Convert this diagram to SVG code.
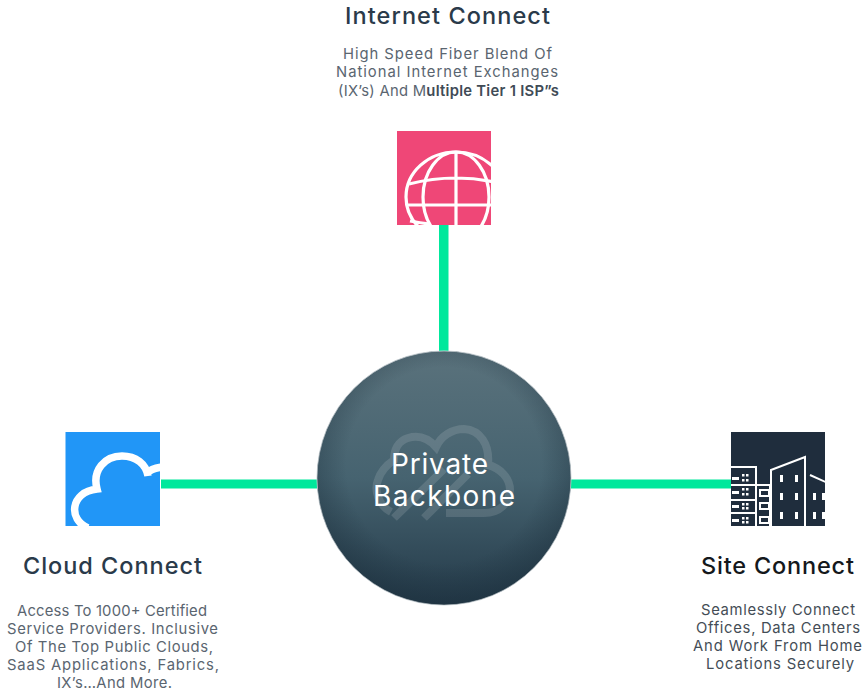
<svg xmlns="http://www.w3.org/2000/svg" width="866" height="699" viewBox="0 0 866 699">
<style>
text{font-family:"Inter","Lato","Noto Sans",sans-serif;text-anchor:middle}
.h{font-size:23.500px;fill:#2a3a4a;font-weight:500}
.b{font-size:14.800px;fill:#5a6570}
.w{fill:none;stroke:#fff}
.c{fill:#00e89c}
.win{fill:#fff}
.t{font-size:28px;fill:#fff}
</style>
<defs>
<linearGradient id="ball" x1="0" y1="0" x2="0" y2="1">
<stop offset="0" stop-color="#5a727c"/><stop offset="0.5" stop-color="#466370"/><stop offset="1" stop-color="#243a49"/>
</linearGradient>
<radialGradient id="edge" cx="0.5" cy="0.45" r="0.55">
<stop offset="0.7" stop-color="#1a2d3a" stop-opacity="0"/><stop offset="1" stop-color="#1a2d3a" stop-opacity=".45"/>
</radialGradient>
<clipPath id="cg"><rect x="397" y="131" width="94" height="94"/></clipPath>
<clipPath id="cc"><rect x="65.500" y="432" width="94.500" height="94"/></clipPath>
<clipPath id="cb"><rect x="731" y="432" width="94" height="94"/></clipPath>
</defs>
<g id="connectors">
<rect class="c" x="439" y="222" width="9.500" height="130"/>
<rect class="c" x="161" y="479.500" width="159" height="9"/>
<rect class="c" x="568" y="479.500" width="165" height="9"/>
</g>
<g id="internet-connect">
<rect x="397" y="131" width="94" height="94" fill="#ef4777"/>
<g clip-path="url(#cg)" class="w" stroke-width="3.200">
<ellipse cx="456" cy="197" rx="50" ry="45"/>
<ellipse cx="456" cy="197" rx="33" ry="45"/>
<path d="M456 152V225M409 184Q456 172 503 184M406 205H506M410 221Q420 223 430 224"/>
</g>
<text class="h" x="447.500" y="24" textLength="205">Internet Connect</text>
<text class="b" x="447.500" y="59" textLength="209">High Speed Fiber Blend Of</text>
<text class="b" x="447" y="77" textLength="222">National Internet Exchanges</text>
<text class="b" x="448.500" y="96" textLength="221">(IX’s) And M<tspan font-weight="600" fill="#404b56">ultiple Tier 1 ISP”s</tspan></text>
</g>
<g id="private-backbone">
<circle cx="444" cy="478" r="127" fill="url(#ball)" stroke="#c8d0d4" stroke-width="1"/>
<circle cx="444" cy="478" r="127" fill="url(#edge)"/>
<g fill="none" stroke="#fff" stroke-opacity=".13" stroke-width="8">
<path d="M391 512C378 505 374 490 378 480C381 470 388 464 394 460C394 450 398 441 408 438C418 435 428 438 436 447C441 436 452 429 464 429C480 430 490 444 488 465C500 468 510 478 510 490C509 503 500 513 484 513H446"/>
<path d="M394 518L444 469M424 518L468 474" stroke-width="8"/>
</g>
<text class="t" x="439.500" y="474" textLength="97">Private</text>
<text class="t" x="444" y="506" textLength="142">Backbone</text>
</g>
<g id="cloud-connect">
<rect x="65.500" y="432" width="94.500" height="94" fill="#2196f7"/>
<path clip-path="url(#cc)" d="M88 528C68 520 70 492 97 489C92 470 105 456 122 456C136 456 146 464 148 476M147 473C150 470 155 468 162 467" class="w" stroke-width="7.500"/>
<text class="h" x="112.500" y="574" textLength="179">Cloud Connect</text>
<text class="b" x="112" y="616" textLength="190">Access To 1000+ Certified</text>
<text class="b" x="112.500" y="634" textLength="211">Service Providers. Inclusive</text>
<text class="b" x="114" y="652" textLength="198">Of The Top Public Clouds,</text>
<text class="b" x="113" y="670" textLength="212">SaaS Applications, Fabrics,</text>
<text class="b" x="114.500" y="688" textLength="115">IX’s…And More.</text>
</g>
<g id="site-connect">
<rect x="731" y="432" width="94" height="94" fill="#1f2d3d"/>
<g clip-path="url(#cb)">
<g class="w" stroke-width="2">
<path d="M731 467H756V526M731 485H756M731 500H756M731 513H756M756 485H770V526M771 526V470L805 457V526M810 475L830 484"/>
<path d="M760 490H769V496H760ZM760 503H769V509H760ZM760 517H769V523H760Z"/>
</g>
<g class="win">
<rect x="732" y="477" width="7" height="3"/><rect x="742" y="474" width="2.500" height="2.500"/><rect x="746" y="474" width="2.500" height="2.500"/><rect x="742" y="479" width="2.500" height="2.500"/><rect x="746" y="479" width="2.500" height="2.500"/>
<rect x="732" y="491" width="7" height="3"/><rect x="742" y="488" width="2.500" height="2.500"/><rect x="746" y="488" width="2.500" height="2.500"/><rect x="742" y="493" width="2.500" height="2.500"/><rect x="746" y="493" width="2.500" height="2.500"/>
<rect x="732" y="505" width="7" height="3"/><rect x="742" y="503" width="2.500" height="2.500"/><rect x="746" y="503" width="2.500" height="2.500"/><rect x="742" y="507" width="2.500" height="2.500"/><rect x="746" y="507" width="2.500" height="2.500"/>
<rect x="732" y="519" width="7" height="3"/><rect x="742" y="517" width="2.500" height="2.500"/><rect x="746" y="517" width="2.500" height="2.500"/><rect x="742" y="521" width="2.500" height="2.500"/><rect x="746" y="521" width="2.500" height="2.500"/>
<rect x="780" y="475" width="3" height="7"/><rect x="795" y="475" width="3" height="7"/>
<rect x="780" y="493" width="3" height="7"/><rect x="795" y="493" width="3" height="7"/>
<rect x="780" y="512" width="3" height="7"/><rect x="795" y="512" width="3" height="7"/>
<rect x="813" y="493" width="3" height="7"/><rect x="822" y="493" width="3" height="7"/>
<rect x="813" y="512" width="3" height="7"/><rect x="822" y="512" width="3" height="7"/>
</g>
</g>
<text class="h" x="777.500" y="574" textLength="153" style="fill:#14181c">Site Connect</text>
<text class="b" x="778" y="615" textLength="154" style="fill:#444d56">Seamlessly Connect</text>
<text class="b" x="778" y="633" textLength="164" style="fill:#444d56">Offices, Data Centers</text>
<text class="b" x="777.500" y="651" textLength="169" style="fill:#444d56">And Work From Home</text>
<text class="b" x="780" y="669" textLength="148" style="fill:#444d56">Locations Securely</text>
</g>
</svg>
